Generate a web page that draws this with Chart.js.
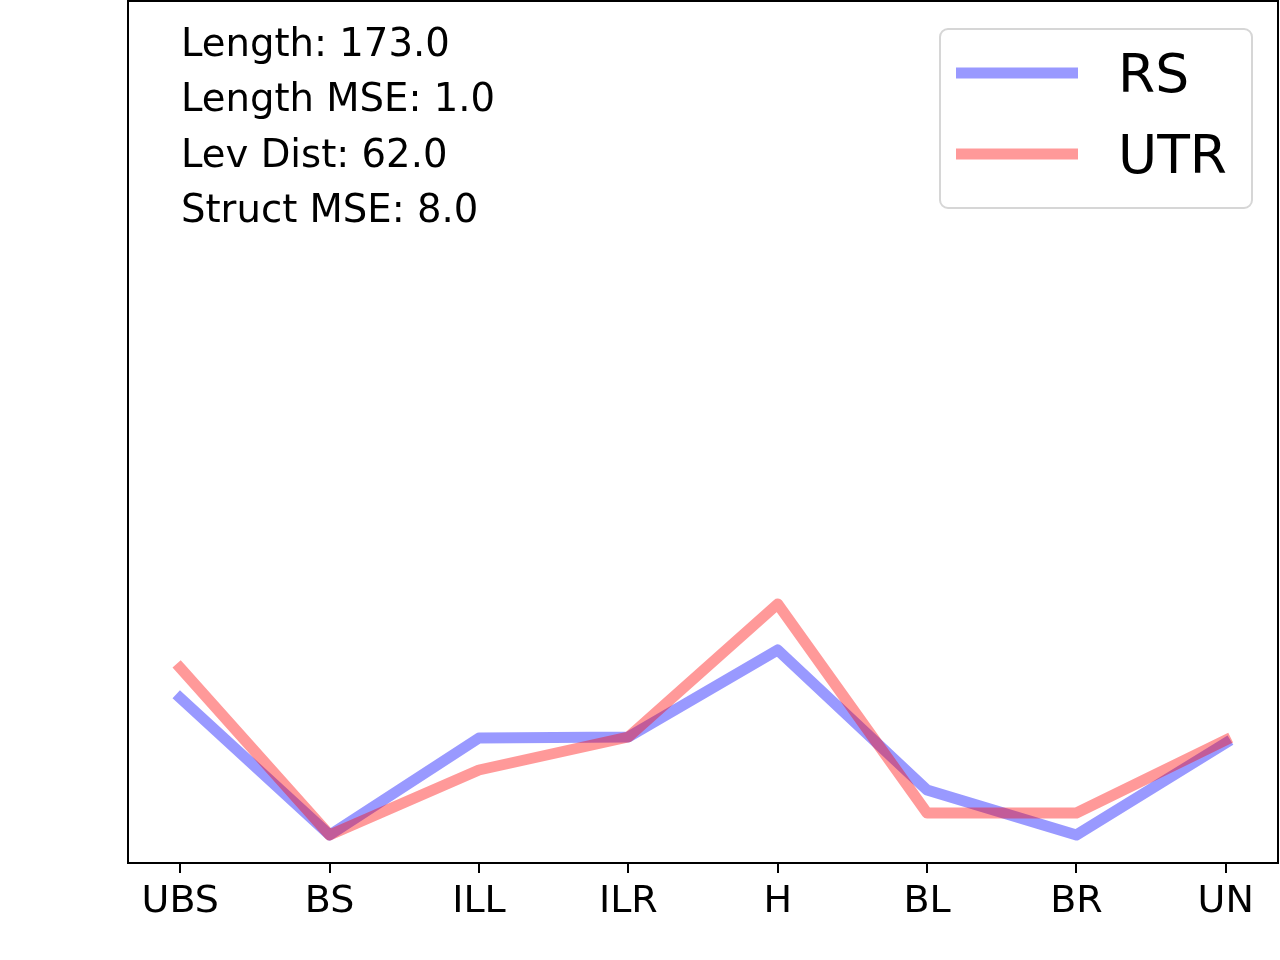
<!DOCTYPE html>
<html lang="en">
<head>
    <meta charset="UTF-8">
    <title>RS vs UTR</title>
    <script src="https://cdn.jsdelivr.net/npm/chart.js"></script>
    <style>
        body {
            margin: 0;
            background: white;
        }

        .chart-box {
            width: 1280px;
            height: 960px;
        }
    </style>
</head>
<body>
    <div class="chart-box">
        <canvas id="lineChart" width="1280" height="960"></canvas>
    </div>

    <script>
        // Data (no y ticks, so units are relative)
        const categories = ['UBS', 'BS', 'ILL', 'ILR', 'H', 'BL', 'BR', 'UN'];
        const rsValues = [165, 28, 125, 126, 213, 73, 28, 120];
        const utrValues = [195, 28, 93, 126, 259, 50, 50, 123];
        const seriesNames = ['RS', 'UTR'];
        const statLines = ['Length: 173.0', 'Length MSE: 1.0', 'Lev Dist: 62.0', 'Struct MSE: 8.0'];

        const FONT = "'DejaVu Sans', sans-serif";

        function toPoints(values) {
            return values.map((v, i) => ({ x: i, y: v }));
        }

        // Frame, stats text and legend box, matplotlib style
        const decorPlugin = {
            id: 'decor',
            afterDatasetsDraw(chart) {
                const ctx = chart.ctx;
                const area = chart.chartArea;
                ctx.save();

                // axes frame
                ctx.strokeStyle = '#000';
                ctx.lineWidth = 2;
                ctx.strokeRect(area.left, area.top + 1, area.right - area.left, area.bottom - area.top - 1);

                // stats text
                ctx.fillStyle = '#000';
                ctx.font = '38.6px ' + FONT;
                ctx.textBaseline = 'alphabetic';
                ctx.textAlign = 'left';
                statLines.forEach((line, i) => {
                    ctx.fillText(line, 181, 56 + i * 55.4);
                });

                // legend
                const bx = 940, by = 29, bw = 312, bh = 179, r = 8;
                ctx.beginPath();
                ctx.moveTo(bx + r, by);
                ctx.arcTo(bx + bw, by, bx + bw, by + bh, r);
                ctx.arcTo(bx + bw, by + bh, bx, by + bh, r);
                ctx.arcTo(bx, by + bh, bx, by, r);
                ctx.arcTo(bx, by, bx + bw, by, r);
                ctx.closePath();
                ctx.fillStyle = 'rgba(255,255,255,0.8)';
                ctx.fill();
                ctx.strokeStyle = '#d6d6d6';
                ctx.lineWidth = 2;
                ctx.stroke();

                ctx.font = '53.5px ' + FONT;
                chart.data.datasets.forEach((ds, i) => {
                    const y = 73 + i * 81;
                    ctx.beginPath();
                    ctx.moveTo(956, y);
                    ctx.lineTo(1078, y);
                    ctx.strokeStyle = ds.borderColor;
                    ctx.lineWidth = 11;
                    ctx.lineCap = 'butt';
                    ctx.stroke();
                    ctx.fillStyle = '#000';
                    ctx.fillText(ds.label, 1118, y + 19);
                });

                ctx.restore();
            }
        };

        const ctx = document.getElementById('lineChart').getContext('2d');
        new Chart(ctx, {
            type: 'line',
            data: {
                datasets: [
                    {
                        label: seriesNames[0],
                        data: toPoints(rsValues),
                        borderColor: 'rgba(0, 0, 255, 0.4)',
                        borderWidth: 11,
                        borderCapStyle: 'square',
                        borderJoinStyle: 'round',
                        pointRadius: 0,
                        tension: 0,
                        order: 1
                    },
                    {
                        label: seriesNames[1],
                        data: toPoints(utrValues),
                        borderColor: 'rgba(255, 0, 0, 0.4)',
                        borderWidth: 11,
                        borderCapStyle: 'square',
                        borderJoinStyle: 'round',
                        pointRadius: 0,
                        tension: 0,
                        order: 0
                    }
                ]
            },
            options: {
                responsive: false,
                animation: false,
                devicePixelRatio: 1,
                layout: {
                    padding: { top: 0, right: 2, left: 0, bottom: 0 }
                },
                plugins: {
                    legend: { display: false },
                    tooltip: { enabled: false }
                },
                scales: {
                    x: {
                        type: 'linear',
                        min: -0.35,
                        max: 7.35,
                        afterBuildTicks(scale) {
                            scale.ticks = categories.map((c, i) => ({ value: i }));
                        },
                        afterFit(scale) {
                            scale.height = 97;
                        },
                        ticks: {
                            callback: (v) => categories[v],
                            color: '#000',
                            font: { family: FONT, size: 38 },
                            padding: 6,
                            maxRotation: 0,
                            autoSkip: false
                        },
                        grid: {
                            display: true,
                            drawOnChartArea: false,
                            drawTicks: true,
                            tickLength: 10,
                            color: '#000',
                            lineWidth: 2
                        },
                        border: { display: false }
                    },
                    y: {
                        min: 0,
                        max: 863,
                        afterFit(scale) {
                            scale.width = 128;
                        },
                        ticks: { display: false },
                        grid: { display: false },
                        border: { display: false }
                    }
                }
            },
            plugins: [decorPlugin]
        });
    </script>
</body>
</html>
